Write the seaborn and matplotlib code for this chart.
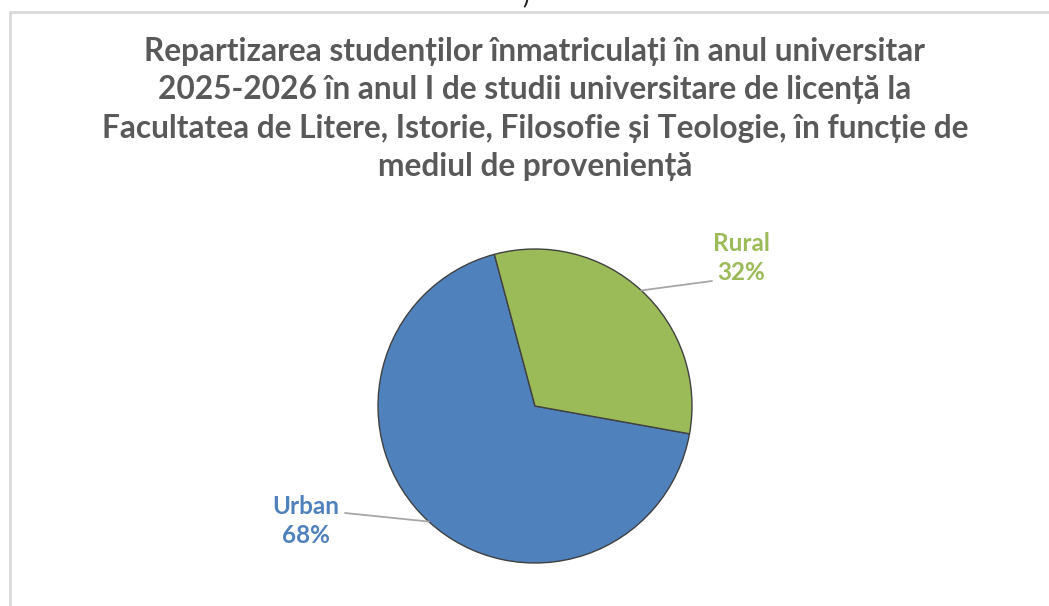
import numpy as np
import matplotlib
matplotlib.use("Agg")
import matplotlib.pyplot as plt
import seaborn as sns

# ---------- data ----------
categories = ["Urban", "Rural"]
shares = [68, 32]
slice_colors = ["#4F81BD", "#9BBB59"]
title = ("Repartizarea studenților înmatriculați în anul universitar\n"
         "2025-2026 în anul I de studii universitare de licență la\n"
         "Facultatea de Litere, Istorie, Filosofie și Teologie, în funcție de\n"
         "mediul de proveniență")

sns.set_theme(style="white")
plt.rcParams["font.family"] = ["Lato", "DejaVu Sans"]

W, H = 1049, 606
fig = plt.figure(figsize=(W / 100, H / 100), dpi=100)
ax = fig.add_axes([0, 0, 1, 1])
ax.set_xlim(0, W)
ax.set_ylim(0, H)
ax.set_axis_off()

# chart frame (only top and left edge visible in the crop)
ax.plot([9.5, 9.5], [0, H - 12], color="#D9D9D9", lw=2, solid_capstyle="butt")
ax.plot([9, W], [H - 12, H - 12], color="#D9D9D9", lw=2, solid_capstyle="butt")
# cut-off character at the very top
ax.text(526, H + 3, ")", ha="center", va="center", fontsize=18, color="#222222")

ax.text(535, H - 109, title, ha="center", va="center", fontsize=22.8,
        fontweight="bold", color="#595959", linespacing=1.38)

cx, cy, r = 535, H - 406, 157
start = -10.2
wedges, _ = ax.pie(shares, colors=slice_colors, startangle=start, counterclock=False,
                   center=(cx, cy), radius=r,
                   wedgeprops=dict(edgecolor="#404040", linewidth=1.0))
ax.set_xlim(0, W)
ax.set_ylim(0, H)
ax.set_aspect("equal")

label_pos = {"Urban": (306, H - 521), "Rural": (741, H - 258)}
line_end = {"Urban": (345, H - 513), "Rural": (712, H - 281)}
for w, cat, val, col in zip(wedges, categories, shares, slice_colors):
    mid = np.deg2rad((w.theta1 + w.theta2) / 2)
    px, py = cx + r * np.cos(mid), cy + r * np.sin(mid)
    ex, ey = line_end[cat]
    ax.plot([px, ex], [py, ey], color="#A6A6A6", lw=1.3)
    tx, ty = label_pos[cat]
    ax.text(tx, ty, f"{cat}\n{val}%", ha="center", va="center", fontsize=17.5,
            fontweight="bold", color=col, linespacing=1.3)

fig.savefig("out.png", dpi=100)
